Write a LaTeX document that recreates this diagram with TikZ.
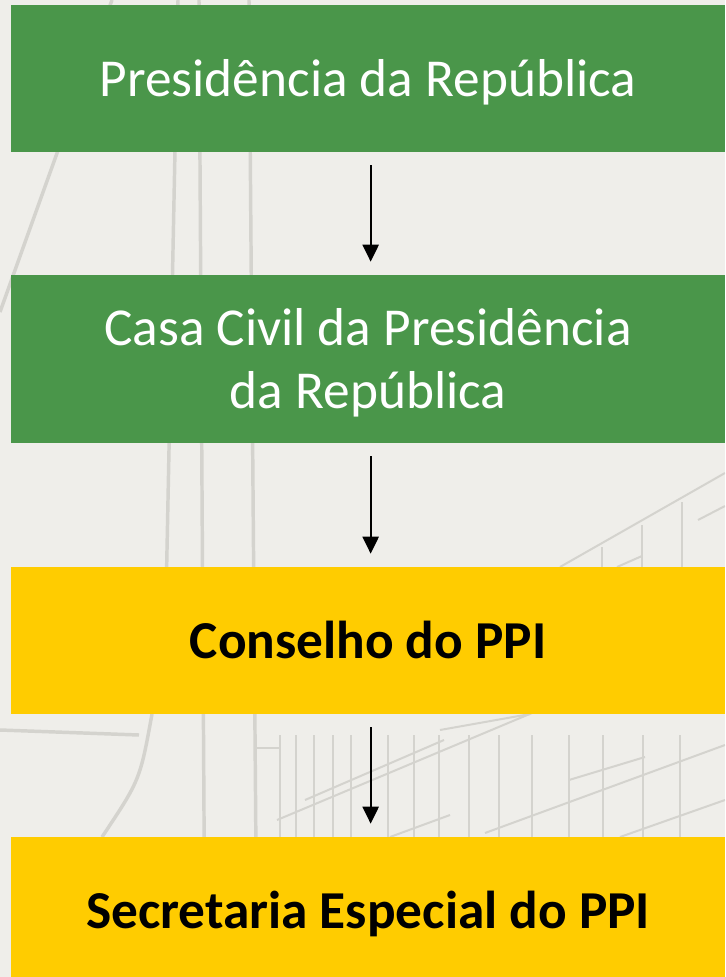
\documentclass[tikz,border=0pt]{standalone}
\usepackage{fontspec}
\setmainfont{Carlito}
\usetikzlibrary{arrows.meta}

\definecolor{verde}{RGB}{74,150,74}
\definecolor{amarelo}{RGB}{255,204,0}
\definecolor{fundo}{RGB}{239,238,234}
\definecolor{risco}{RGB}{212,211,206}

\begin{document}
\begin{tikzpicture}[x=0.75pt,y=0.75pt,yscale=-1,xscale=1,
  caixa/.style={rectangle, inner sep=0pt, minimum width=535.5pt, minimum height=110.25pt, text height=35pt, text depth=8.5pt, align=center, font=\fontsize{40}{47.25}\selectfont},
  seta/.style={-{Triangle[length=12.75pt,width=12pt]}, line width=1.7pt, shorten <=9.75pt, shorten >=9.75pt},
  traco/.style={risco, line width=2.6pt},
  grade/.style={risco, line width=1.5pt}]
\useasboundingbox (0,0) rectangle (725,977);
\clip (0,0) rectangle (725,977);
\fill[fundo] (0,0) rectangle (725,977);

%Background drawing
\draw[traco] (112,0) -- (0,312);
\draw[traco] (178,0) -- (166,600);
\draw[traco] (199,0) -- (205,977);
\draw[traco] (249,0) -- (257,977);
\draw[traco] (0,730) -- (139,735);
\draw[traco] (152,714) .. controls (140,780) .. (102,837);
\draw[grade] (257,748) -- (280,748);
\draw[grade] (560,567) -- (725,473);
\draw[grade] (602,547) -- (602,567);
\draw[grade] (642,525) -- (642,567);
\draw[grade] (682,502) -- (682,567);
\draw[grade] (617,567) -- (642,556);
\draw[grade] (698,520) -- (725,506);
\foreach \gx in {280,296,314,333,351,388,414,439,469,499,532,569,603,643,680}
  \draw[grade] (\gx,735) -- (\gx,837);
\draw[grade] (277,820) -- (532,713);
\draw[grade] (305,800) -- (444,740);
\draw[grade] (440,730) -- (530,714);
\draw[grade] (485,833) -- (725,745);
\draw[grade] (569,780) -- (645,757);
\draw[grade] (620,837) -- (725,800);
\draw[grade] (390,837) -- (450,815);

% Text Node
\node[caixa, fill=verde, text=white] (pres) at (368,78.5) {Presidência da República};
% Text Node
\node[caixa, fill=verde, text=white, minimum height=126pt, text height=82pt] (casa) at (368,359) {Casa Civil da Presidência\\da República};
% Text Node
\node[caixa, fill=amarelo, font=\fontsize{40}{47.25}\selectfont\bfseries] (cons) at (368,640.5) {Conselho do PPI};
% Text Node
\node[caixa, fill=amarelo, font=\fontsize{40}{47.25}\selectfont\bfseries] (secr) at (368,910.5) {Secretaria Especial do PPI};

%Straight Lines
\draw[seta] ([xshift=2pt]pres.south) -- ([xshift=2pt]casa.north);
\draw[seta] ([xshift=2pt]casa.south) -- ([xshift=2pt]cons.north);
\draw[seta] ([xshift=2pt]cons.south) -- ([xshift=2pt]secr.north);

\end{tikzpicture}
\end{document}
